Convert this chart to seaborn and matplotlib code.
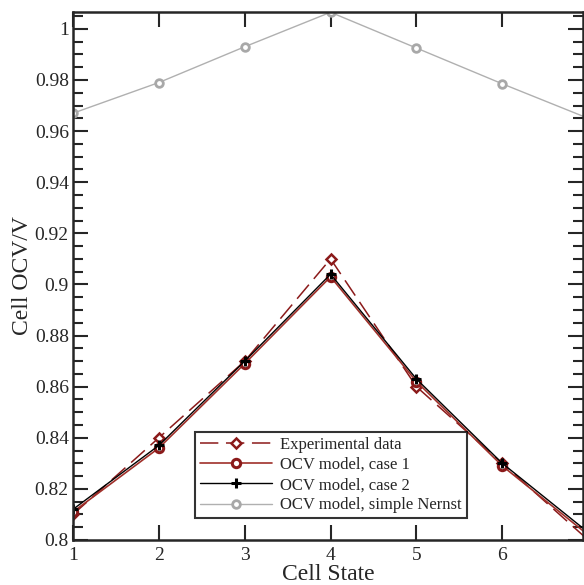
import matplotlib
matplotlib.use("Agg")
import matplotlib.pyplot as plt
import seaborn as sns
from matplotlib.ticker import MultipleLocator

sns.set_style("ticks")
plt.rcParams['font.family'] = ['Liberation Serif', 'DejaVu Serif']

cell_state = [1, 2, 3, 4, 5, 6, 7]
experimental = [0.810, 0.840, 0.870, 0.910, 0.860, 0.830, 0.800]
case1 = [0.811, 0.836, 0.869, 0.903, 0.862, 0.829, 0.802]
case2 = [0.812, 0.837, 0.870, 0.904, 0.863, 0.830, 0.803]
nernst = [0.967, 0.979, 0.993, 1.0065, 0.9925, 0.9785, 0.965]

fig = plt.figure(figsize=(5.84, 5.85), dpi=100)
ax = fig.add_axes([73/584, 45/585, 510/584, 528/585])

dark_red = '#8b1a1a'
red2 = '#a0302a'

sns.lineplot(x=cell_state, y=experimental, ax=ax, color=dark_red, lw=1.1,
             linestyle=(0, (12, 5)), marker='D', markersize=5,
             markerfacecolor='white', markeredgecolor=dark_red, markeredgewidth=1.8,
             label='Experimental data')
sns.lineplot(x=cell_state, y=case1, ax=ax, color=red2, lw=1.2,
             marker='o', markersize=6, markerfacecolor='white',
             markeredgecolor=dark_red, markeredgewidth=2.2,
             label='OCV model, case 1')
sns.lineplot(x=cell_state, y=case2, ax=ax, color='black', lw=1.0,
             marker='+', markersize=7, markeredgecolor='black',
             markeredgewidth=2.2,
             label='OCV model, case 2')
sns.lineplot(x=cell_state, y=nernst, ax=ax, color='#b0b0b0', lw=1.0,
             marker='o', markersize=5.5, markerfacecolor='white',
             markeredgecolor='#a8a8a8', markeredgewidth=2.0,
             label='OCV model, simple Nernst')

ax.set_xlim(1, 6.94)
ax.set_ylim(0.8, 1.0066)
ax.xaxis.set_major_locator(MultipleLocator(1))
ax.yaxis.set_minor_locator(MultipleLocator(0.005))
ax.tick_params(axis='both', which='major', direction='in', length=11, width=1.5,
               labelsize=14, top=True, right=True, pad=3)
ax.tick_params(axis='x', which='major', pad=5)
ax.tick_params(axis='y', which='minor', direction='in', length=7, width=1.5,
               right=True, left=True)
ax.set_yticks([0.8, 0.82, 0.84, 0.86, 0.88, 0.9, 0.92, 0.94, 0.96, 0.98, 1.0])
ax.set_yticklabels(['0.8', '0.82', '0.84', '0.86', '0.88', '0.9', '0.92',
                    '0.94', '0.96', '0.98', '1'])
for s in ax.spines.values():
    s.set_linewidth(1.8)
    s.set_visible(True)

ax.set_xlabel('Cell State', fontsize=17, labelpad=0)
ax.set_ylabel('Cell OCV/V', fontsize=17)
ax.yaxis.set_label_coords(-0.078, 0.5)

leg = ax.legend(loc='lower left', bbox_to_anchor=(0.239, 0.041), fontsize=12,
                frameon=True, fancybox=False, handlelength=4.3,
                borderpad=0.3, labelspacing=0.25, handletextpad=0.5,
                borderaxespad=0)
leg.get_frame().set_edgecolor('black')
leg.get_frame().set_linewidth(1.5)

fig.savefig('out.png', dpi=100)
